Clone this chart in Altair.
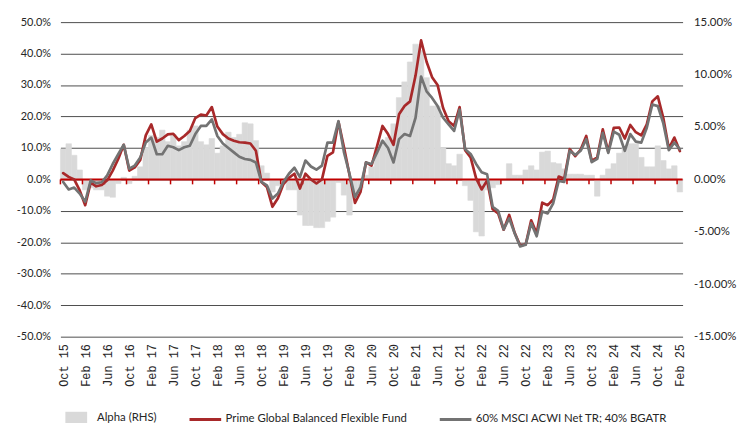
import altair as alt
import pandas as pd

# ---------------- data ----------------
months = [p.strftime("%b %y") for p in pd.period_range("2015-10", periods=113, freq="M")]

fund = [
    2.0, 0.8, 0.0, -3.5, -8.2, -1.0, -2.2, -1.8, -0.3, 2.8, 6.5, 11.0,
    2.8, 3.8, 6.2, 14.0, 17.5, 12.0, 13.0, 14.3, 14.5, 12.5, 13.8, 15.4,
    19.5, 20.6, 20.3, 23.0, 16.8, 14.4, 13.0, 12.3, 11.8, 11.7, 11.4, 9.1,
    -0.8, -2.4, -8.7, -6.0, -1.5, 0.5, 1.8, -2.9, 1.8, 0.0, -1.3, 0.0,
    7.5, 8.6, 18.3, 10.2, 1.5, -7.5, -4.0, 5.4, 4.4, 10.5, 17.0, 14.4,
    11.0, 20.7, 23.3, 24.8, 33.0, 44.2, 37.4, 32.5, 30.0, 22.7, 18.5, 17.0,
    23.0, 9.3, 7.0, 0.3, -3.2, -0.3, -9.5, -10.8, -16.0, -11.3, -17.0, -21.0,
    -20.7, -13.0, -17.2, -7.4, -8.2, -6.4, 0.9, 0.2, 9.6, 7.4, 9.5, 13.8,
    5.9, 7.0, 15.9, 8.8, 16.4, 16.5, 13.0, 17.3, 15.0, 14.0, 17.5, 24.8,
    26.4, 19.5, 9.8, 13.3, 9.0,
]

bench = [
    -0.8, -3.2, -2.6, -4.5, -7.1, -0.3, -1.2, -0.9, 1.3, 4.9, 8.0, 11.0,
    3.4, 4.4, 7.0, 11.7, 13.3, 8.0, 8.0, 10.7, 10.2, 9.3, 10.2, 10.7,
    14.4, 17.0, 17.0, 19.1, 13.8, 11.4, 10.0, 8.6, 7.2, 6.5, 6.2, 5.4,
    -0.8, -1.9, -6.1, -4.5, -0.8, 1.8, 3.7, 0.7, 6.0, 4.1, 3.1, 4.4,
    11.7, 11.7, 18.5, 8.6, 1.8, -5.6, -2.5, 5.4, 4.9, 8.5, 12.3, 10.0,
    5.4, 12.8, 14.4, 13.8, 19.6, 32.7, 28.0, 25.9, 23.3, 19.6, 17.5, 15.4,
    22.2, 9.6, 8.1, 4.9, 2.3, 1.6, -8.7, -10.0, -15.9, -12.4, -17.1, -21.3,
    -20.8, -13.9, -18.1, -10.2, -10.8, -7.6, -0.5, -0.8, 9.1, 7.8, 9.1, 12.8,
    5.5, 6.5, 14.8, 8.4, 15.2, 14.2, 9.1, 14.4, 12.0, 11.7, 16.4, 23.8,
    23.3, 17.8, 9.3, 11.7, 9.6,
]

alpha = [
    2.9, 3.4, 2.3, 0.9, -1.0, -0.8, -1.0, -1.0, -1.6, -1.7, -0.4, 0.2,
    -0.4, 0.3, 1.2, 3.0, 4.2, 4.0, 4.7, 3.6, 4.3, 3.2, 3.6, 4.7,
    5.1, 3.6, 3.3, 3.9, 2.5, 3.2, 4.5, 4.0, 4.3, 5.4, 5.3, 3.7,
    1.3, 0.6, -1.2, -0.6, -0.3, -1.0, -1.0, -3.4, -4.4, -4.4, -4.6, -4.6,
    -4.0, -3.6, -0.3, -1.5, -3.4, -1.7, -0.8, 0.4, 1.2, 3.0, 3.7, 4.0,
    5.3, 7.8, 9.3, 11.2, 12.9, 12.3, 9.7, 7.0, 7.0, 3.0, 1.5, 1.3,
    2.4, -0.6, -2.0, -5.0, -5.4, -1.0, -0.8, -0.5, 0.0, 1.5, 0.4, 0.4,
    0.9, 1.3, 0.9, 2.6, 2.7, 1.6, 1.5, 1.0, 0.5, 0.5, 0.5, 0.4,
    0.4, -1.6, 0.4, 1.0, 1.5, 2.5, 3.0, 3.4, 3.4, 2.1, 1.2, 1.2,
    3.2, 1.8, 1.0, 1.3, -1.2,
]

left_ticks = [-50, -40, -30, -20, -10, 0, 10, 20, 30, 40, 50]
right_ticks = [-15, -10, -5, 0, 5, 10, 15]

FUND = "Prime Global Balanced Flexible Fund"
BENCH = "60% MSCI ACWI Net TR; 40% BGATR"
ALPHA = "Alpha (RHS)"

RED = "#A8292A"
GREY = "#737373"
BARGREY = "#D9D9D9"
AXISRED = "#C00000"
FONT = "Lato, Liberation Sans, sans-serif"
MONO = "Liberation Mono, DejaVu Sans Mono, monospace"
TXT = "#262626"

# ---------------- tables ----------------
n = len(months)
df = pd.DataFrame({"idx": list(range(n)), "month": months, "alpha": alpha})
df["x1"] = df["idx"] + 1
df["base"] = 0
df["lab"] = ALPHA

lines_df = pd.concat([
    pd.DataFrame({"xc": [i + 0.5 for i in range(n)], "ret": fund, "series": FUND}),
    pd.DataFrame({"xc": [i + 0.5 for i in range(n)], "ret": bench, "series": BENCH}),
], ignore_index=True)

tick_pos = list(range(0, n, 4))
tick_df = pd.DataFrame({"b": tick_pos, "z": [0] * len(tick_pos)})
zero_df = pd.DataFrame({"z": [0]})

label_values = [p + 0.5 for p in tick_pos]
label_expr = "[" + ",".join("'" + m + "'" for m in months[::4]) + "][floor(datum.value / 4)]"

xscale = alt.Scale(domain=[0, n], nice=False, zero=False)
yL = alt.Scale(domain=[-50, 50], nice=False, zero=False)
yR = alt.Scale(domain=[-15, 15], nice=False, zero=False)

X_AXIS = alt.Axis(values=label_values, labelExpr=label_expr, labelAngle=270,
                  domain=False, ticks=False, grid=False, labelFont=MONO,
                  labelFontSize=12, labelColor=TXT, labelPadding=7,
                  labelOverlap=False, labelFlush=False, title="")

L_AXIS = alt.Axis(orient="left", values=left_ticks,
                  labelExpr="(datum.value < 0 ? '-' : '') + format(abs(datum.value), '.1f') + '%'",
                  grid=True, gridColor="#4D4D4D", gridWidth=1, domain=False, ticks=False,
                  labelPadding=10, labelFont=FONT, labelFontSize=11, labelColor=TXT,
                  labelFlush=False, title="")

R_AXIS = alt.Axis(orient="right", values=right_ticks,
                  labelExpr="(datum.value < 0 ? '-' : '') + format(abs(datum.value), '.2f') + '%'",
                  domain=False, ticks=False, grid=False, labelPadding=11,
                  labelFont=FONT, labelFontSize=11.5, labelColor=TXT,
                  labelFlush=False, title="")

bars = alt.Chart(df).mark_bar(stroke=BARGREY, strokeWidth=0.6).encode(
    x=alt.X("idx:Q", scale=xscale, axis=X_AXIS),
    x2="x1:Q",
    y=alt.Y("alpha:Q", scale=yR, axis=R_AXIS),
    y2="base:Q",
    fill=alt.Fill("lab:N", scale=alt.Scale(domain=[ALPHA], range=[BARGREY]),
                  legend=alt.Legend(orient="none", legendX=5, legendY=389, title=None,
                                    direction="horizontal", padding=0,
                                    symbolType="M-1,-0.55H1V0.55H-1Z", symbolSize=484,
                                    symbolStrokeWidth=0, labelOffset=10, labelLimit=400,
                                    labelFont=FONT, labelFontSize=11.5, labelColor=TXT)),
)

lines = alt.Chart(lines_df).mark_line(strokeWidth=2.7, strokeJoin="round", strokeCap="round").encode(
    x=alt.X("xc:Q", scale=xscale, axis=X_AXIS),
    y=alt.Y("ret:Q", scale=yL, axis=L_AXIS),
    stroke=alt.Stroke("series:N", scale=alt.Scale(domain=[FUND, BENCH], range=[RED, GREY]),
                      legend=alt.Legend(orient="none", legendX=129, legendY=384, title=None,
                                        direction="horizontal", padding=0,
                                        symbolType="stroke", symbolSize=1024, symbolStrokeWidth=3,
                                        labelOffset=3, columnPadding=26, labelLimit=400,
                                        labelFont=FONT, labelFontSize=11.5, labelColor=TXT)),
)

zero = alt.Chart(zero_df).mark_rule(color=AXISRED, strokeWidth=2).encode(
    y=alt.Y("z:Q", scale=yL, axis=L_AXIS),
)

ticks = alt.Chart(tick_df).mark_rule(color=AXISRED, strokeWidth=1.5, y2Offset=5).encode(
    x=alt.X("b:Q", scale=xscale, axis=X_AXIS),
    y=alt.Y("z:Q", scale=yL, axis=L_AXIS),
    y2="z:Q",
)

inner = alt.layer(zero, ticks, lines)

chart = alt.layer(bars, inner).resolve_scale(y="independent").properties(
    width=629,
    height=318,
    autosize=alt.AutoSizeParams(type="none"),
    padding={"left": 53, "top": 12, "right": 55, "bottom": 85},
).configure_view(stroke=None)

chart.save("out.html", embed_options={"renderer": "svg", "actions": False})
